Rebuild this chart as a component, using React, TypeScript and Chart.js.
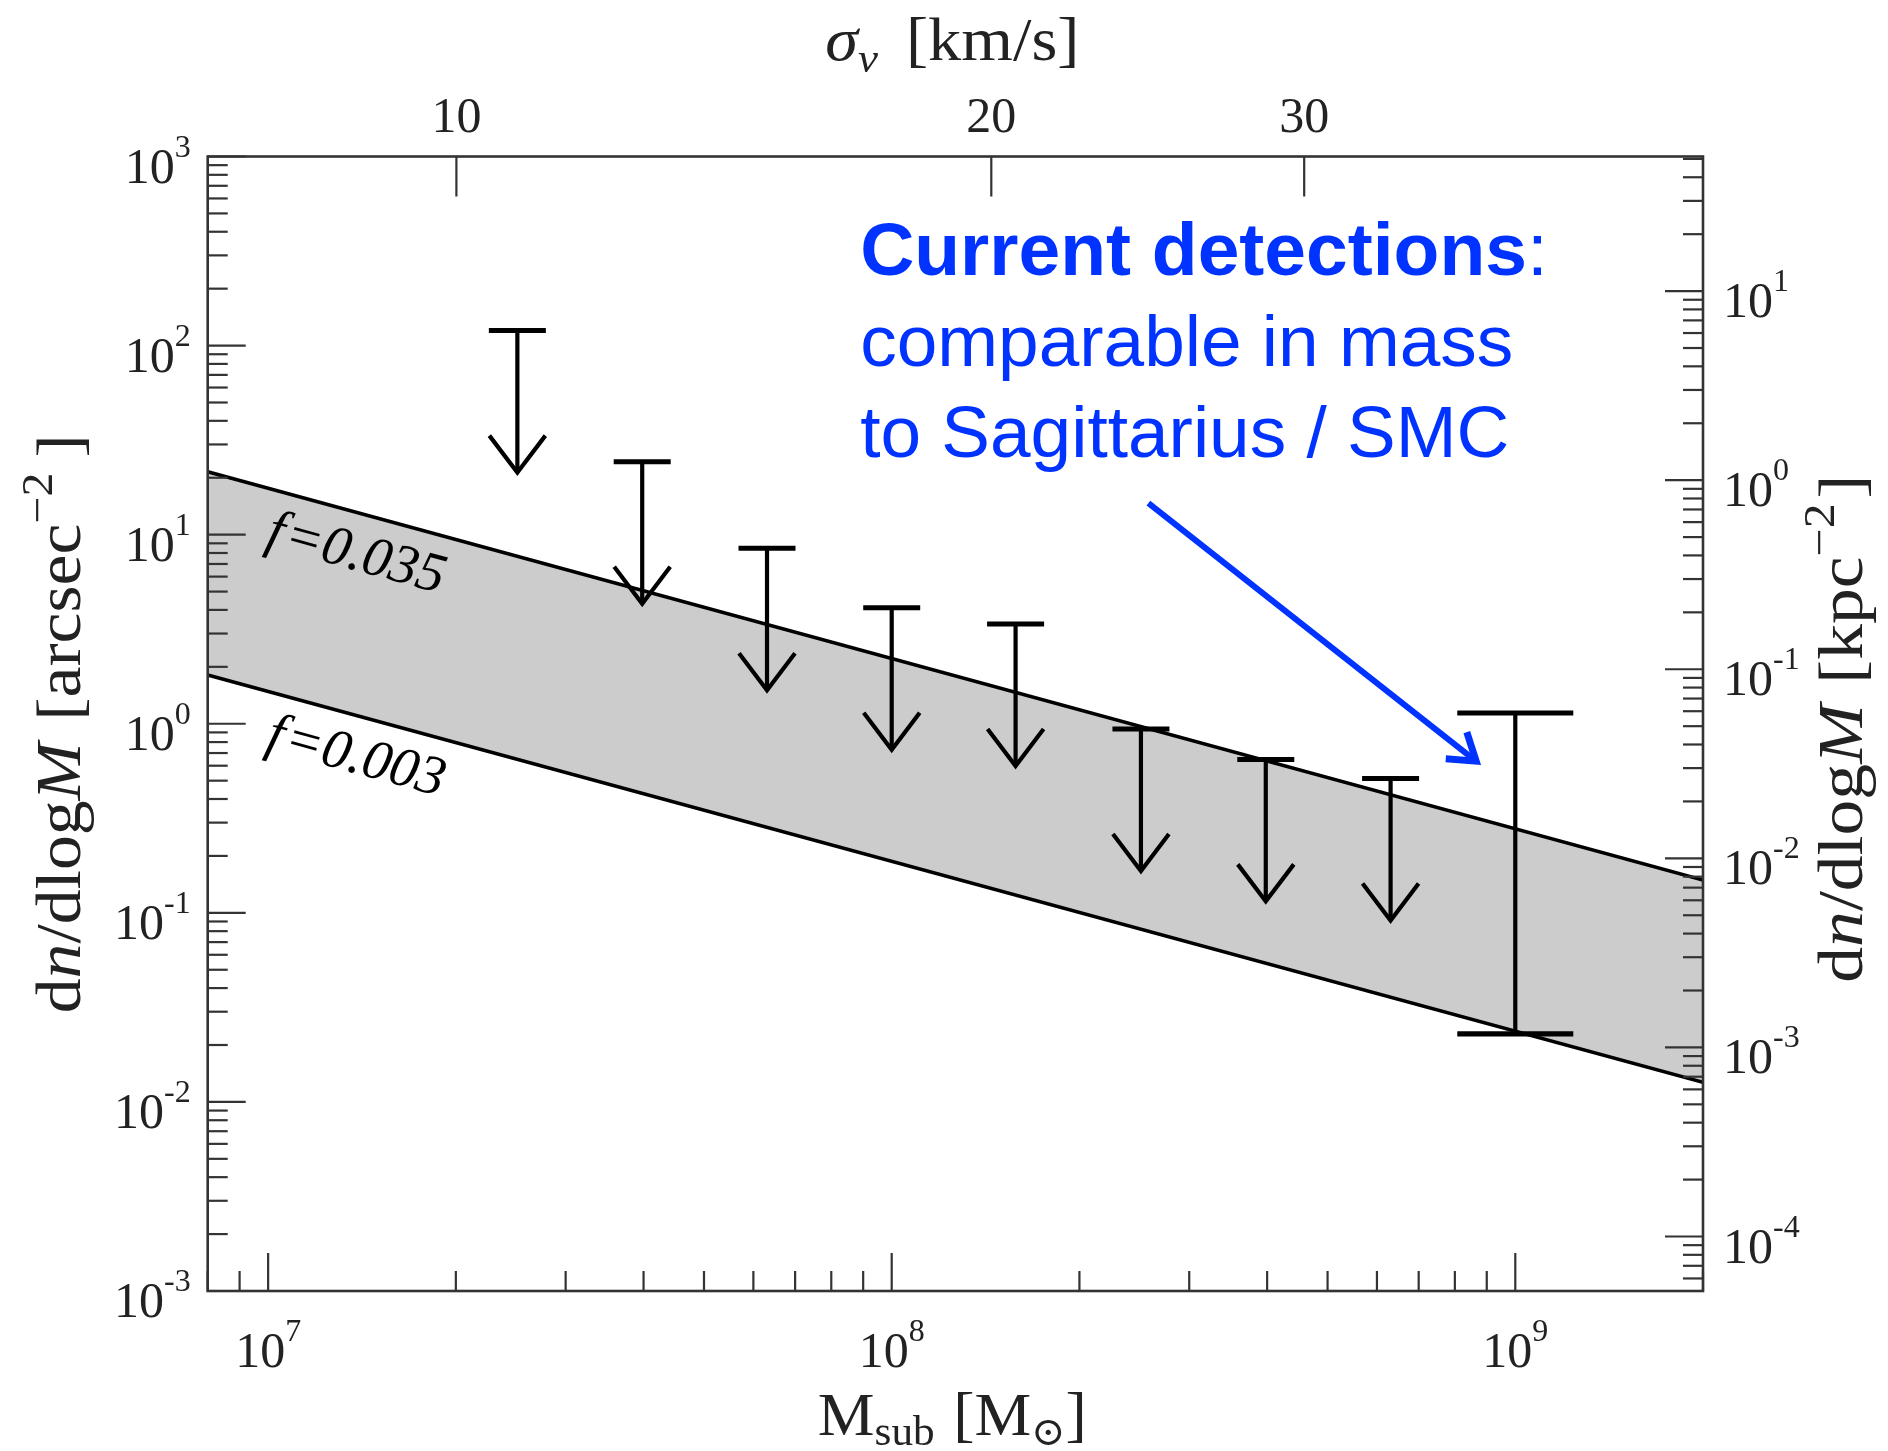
import React, { useEffect, useRef } from 'react';
import { Chart, registerables } from 'chart.js';

Chart.register(...registerables);

// Subhalo mass range of the shaded band and its two bounding lines [arcsec^-2]
const bandMass = [8e6, 2e9];
const bandHigh = [21.5, 0.149]; // f = 0.035
const bandLow = [1.81, 0.0127]; // f = 0.003
const bandLabels = ['0.035', '0.003'];

// Upper limits on dn/dlogM [arcsec^-2]
const limitMass = [2.51e7, 3.98e7, 6.31e7, 1.0e8, 1.58e8, 2.51e8, 3.98e8, 6.31e8];
const limitValue = [120, 24.3, 8.47, 4.11, 3.37, 0.938, 0.648, 0.514];

// Current detection interval [arcsec^-2]
const detectionMass = [1.0e9];
const detectionHigh = [1.14];
const detectionLow = [0.0229];

// Axis ranges
const massRange = [8e6, 2e9];
const densityRange = [1e-3, 1e3];
const kpcRange = [5.15e-5, 51.5];
const sigmaRange = [7.245, 50.3];

// Labelled ticks
const massTickPowers = [7, 8, 9];
const densityTickPowers = [-3, -2, -1, 0, 1, 2, 3];
const kpcTickPowers = [-4, -3, -2, -1, 0, 1];
const sigmaTicks = [10, 20, 30];

// Annotation text and arrow (data coordinates)
const noteHead = 'Current detections';
const noteLines = ['comparable in mass', 'to Sagittarius / SMC'];
const noteAnchor = [8.9e7, 236];
const arrowFrom = [2.58e8, 14.7];
const arrowTo = [8.73e8, 0.62];
const bandLabelMass = 1.44e7;

const SERIF = "'Liberation Serif', 'DejaVu Serif', serif";
const SANS = "'Liberation Sans', Arial, sans-serif";
const AXIS = '#333333';
const BLUE = 'rgb(0, 51, 255)';
const BAND_FILL = '#cccccc';

const MAJOR = 38;
const MINOR = 20;

type Run = {
  t: string;
  size: number;
  italic?: boolean;
  weight?: string;
  dy?: number;
  gap?: number;
  family?: string;
};

const fontOf = (r: Run) =>
  `${r.italic ? 'italic ' : ''}${r.weight || 'normal'} ${r.size}px ${r.family || SERIF}`;

function measureRuns(ctx: CanvasRenderingContext2D, runs: Run[]) {
  let w = 0;
  for (const r of runs) {
    ctx.font = fontOf(r);
    w += ctx.measureText(r.t).width + (r.gap || 0);
  }
  return w;
}

function drawRuns(
  ctx: CanvasRenderingContext2D,
  runs: Run[],
  x: number,
  y: number,
  align: 'left' | 'center' | 'right' = 'left',
  width?: number
) {
  const natural = measureRuns(ctx, runs);
  const sx = width ? width / natural : 1;
  const total = natural * sx;
  const start = align === 'left' ? x : align === 'center' ? x - total / 2 : x - total;
  ctx.save();
  ctx.translate(start, y);
  ctx.scale(sx, 1);
  ctx.textAlign = 'left';
  ctx.textBaseline = 'alphabetic';
  let cx = 0;
  for (const r of runs) {
    ctx.font = fontOf(r);
    ctx.fillText(r.t, cx, r.dy || 0);
    cx += ctx.measureText(r.t).width + (r.gap || 0);
  }
  ctx.restore();
}

const powerRuns = (p: number): Run[] => [
  { t: '10', size: 50 },
  { t: p < 0 ? `-${-p}` : String(p), size: 32, dy: -26, gap: 0 },
];

// All k·10^n values inside a range, flagged major when k = 1
function logTicks(min: number, max: number) {
  const out: { v: number; major: boolean }[] = [];
  const lo = Math.floor(Math.log10(min));
  const hi = Math.ceil(Math.log10(max));
  for (let n = lo; n <= hi; n++) {
    for (let k = 1; k <= 9; k++) {
      const v = k * Math.pow(10, n);
      if (v >= min * 0.9999 && v <= max * 1.0001) out.push({ v, major: k === 1 });
    }
  }
  return out;
}

function seg(ctx: CanvasRenderingContext2D, x1: number, y1: number, x2: number, y2: number) {
  ctx.beginPath();
  ctx.moveTo(x1, y1);
  ctx.lineTo(x2, y2);
  ctx.stroke();
}

const overlay = {
  id: 'overlay',
  afterDatasetsDraw(chart: any) {
    const { ctx, chartArea: a, scales } = chart;
    const x = scales.x;
    const y = scales.y;
    const xTop = scales.xTop;
    const yRight = scales.yRight;

    ctx.save();
    ctx.beginPath();
    ctx.rect(a.left, a.top, a.right - a.left, a.bottom - a.top);
    ctx.clip();

    // upper limits: cap, stem and open arrow head
    ctx.strokeStyle = '#000';
    ctx.lineJoin = 'miter';
    ctx.lineCap = 'butt';
    const capHalf = 28.5;
    const arrowLen = 142;
    const headW = 28;
    const headH = 37;
    limitMass.forEach((m, i) => {
      const px = x.getPixelForValue(m);
      const py = y.getPixelForValue(limitValue[i]);
      const tip = py + arrowLen;
      ctx.lineWidth = 5;
      seg(ctx, px - capHalf, py, px + capHalf, py);
      ctx.lineWidth = 4.2;
      seg(ctx, px, py, px, tip);
      ctx.beginPath();
      ctx.moveTo(px - headW, tip - headH);
      ctx.lineTo(px, tip);
      ctx.lineTo(px + headW, tip - headH);
      ctx.stroke();
    });

    // detection interval
    detectionMass.forEach((m, i) => {
      const px = x.getPixelForValue(m);
      const pTop = y.getPixelForValue(detectionHigh[i]);
      const pBot = y.getPixelForValue(detectionLow[i]);
      ctx.lineWidth = 4.2;
      seg(ctx, px, pTop, px, pBot);
      ctx.lineWidth = 5.2;
      seg(ctx, px - 58, pTop, px + 58, pTop);
      seg(ctx, px - 58, pBot, px + 58, pBot);
    });

    // f labels along the band edges
    const xa = x.getPixelForValue(bandMass[0]);
    const xb = x.getPixelForValue(bandMass[1]);
    [bandHigh, bandLow].forEach((vals, i) => {
      const ya = y.getPixelForValue(vals[0]);
      const yb = y.getPixelForValue(vals[1]);
      const ang = Math.atan2(yb - ya, xb - xa);
      const px = x.getPixelForValue(bandLabelMass);
      const py = ya + ((px - xa) / (xb - xa)) * (yb - ya);
      const off = 38;
      const cx = px - Math.sin(ang) * off;
      const cy = py + Math.cos(ang) * off;
      ctx.save();
      ctx.translate(cx, cy);
      ctx.rotate(ang);
      ctx.fillStyle = '#000';
      drawRuns(
        ctx,
        [
          { t: 'f', size: 56, italic: true, gap: 6 },
          { t: '=', size: 56, gap: 3 },
          { t: bandLabels[i], size: 56, italic: true },
        ],
        0,
        18,
        'center',
        182
      );
      ctx.restore();
    });

    // annotation arrow
    const ax0 = x.getPixelForValue(arrowFrom[0]);
    const ay0 = y.getPixelForValue(arrowFrom[1]);
    const ax1 = x.getPixelForValue(arrowTo[0]);
    const ay1 = y.getPixelForValue(arrowTo[1]);
    const dir = Math.atan2(ay1 - ay0, ax1 - ax0);
    ctx.strokeStyle = BLUE;
    ctx.lineWidth = 6;
    seg(ctx, ax0, ay0, ax1 - Math.cos(dir) * 4, ay1 - Math.sin(dir) * 4);
    ctx.lineWidth = 7;
    const wing = 33;
    const spread = (31 * Math.PI) / 180;
    ctx.beginPath();
    ctx.moveTo(ax1 - Math.cos(dir - spread) * wing, ay1 - Math.sin(dir - spread) * wing);
    ctx.lineTo(ax1 - Math.cos(dir) * 3, ay1 - Math.sin(dir) * 3);
    ctx.lineTo(ax1 - Math.cos(dir + spread) * wing, ay1 - Math.sin(dir + spread) * wing);
    ctx.stroke();
    ctx.restore();

    // annotation text
    ctx.save();
    ctx.fillStyle = BLUE;
    const nx = x.getPixelForValue(noteAnchor[0]);
    const ny = y.getPixelForValue(noteAnchor[1]);
    drawRuns(
      ctx,
      [
        { t: noteHead, size: 75, weight: 'bold', family: SANS },
        { t: ':', size: 75, family: SANS },
      ],
      nx,
      ny
    );
    noteLines.forEach((ln, i) => {
      drawRuns(ctx, [{ t: ln, size: 73, family: SANS }], nx, ny + 91 * (i + 1));
    });
    ctx.restore();

    // frame and inward ticks
    ctx.save();
    ctx.strokeStyle = AXIS;
    ctx.lineWidth = 2.2;
    logTicks(densityRange[0], densityRange[1]).forEach(({ v, major }) => {
      const py = y.getPixelForValue(v);
      seg(ctx, a.left, py, a.left + (major ? MAJOR : MINOR), py);
    });
    logTicks(kpcRange[0], kpcRange[1]).forEach(({ v, major }) => {
      const py = yRight.getPixelForValue(v);
      seg(ctx, a.right, py, a.right - (major ? MAJOR : MINOR), py);
    });
    logTicks(massRange[0], massRange[1]).forEach(({ v, major }) => {
      const px = x.getPixelForValue(v);
      seg(ctx, px, a.bottom, px, a.bottom - (major ? MAJOR : MINOR));
    });
    sigmaTicks.forEach((s) => {
      const px = xTop.getPixelForValue(s);
      seg(ctx, px, a.top, px, a.top + 40);
    });
    ctx.lineWidth = 2.6;
    ctx.strokeRect(a.left, a.top, a.right - a.left, a.bottom - a.top);
    ctx.restore();
  },
  afterDraw(chart: any) {
    const { ctx, chartArea: a, scales } = chart;
    const x = scales.x;
    const y = scales.y;
    const xTop = scales.xTop;
    const yRight = scales.yRight;
    ctx.save();
    ctx.fillStyle = '#222';

    densityTickPowers.forEach((p) => {
      const py = y.getPixelForValue(Math.pow(10, p));
      drawRuns(ctx, powerRuns(p), a.left - 17, py + 26, 'right');
    });
    kpcTickPowers.forEach((p) => {
      const py = yRight.getPixelForValue(Math.pow(10, p));
      drawRuns(ctx, powerRuns(p), a.right + 20, py + 26, 'left');
    });
    massTickPowers.forEach((p) => {
      const px = x.getPixelForValue(Math.pow(10, p));
      drawRuns(ctx, powerRuns(p), px, a.bottom + 76, 'center');
    });
    sigmaTicks.forEach((s) => {
      const px = xTop.getPixelForValue(s);
      drawRuns(ctx, [{ t: String(s), size: 50 }], px, a.top - 25, 'center');
    });

    const cxMid = (a.left + a.right) / 2;
    const cyMid = (a.top + a.bottom) / 2;

    // top title: velocity dispersion
    drawRuns(
      ctx,
      [
        { t: 'σ', size: 62, italic: true },
        { t: 'v', size: 42, italic: true, dy: 12, gap: 26 },
        { t: '[km/s]', size: 62 },
      ],
      cxMid - 3,
      60,
      'center',
      254
    );

    // bottom title: subhalo mass
    drawRuns(
      ctx,
      [
        { t: 'M', size: 62 },
        { t: 'sub', size: 42, dy: 10, gap: 18 },
        { t: '[M', size: 62 },
        { t: '⊙', size: 40, dy: 10 },
        { t: ']', size: 62 },
      ],
      cxMid - 3,
      1435,
      'center',
      269
    );

    // left title
    ctx.save();
    ctx.translate(80, cyMid);
    ctx.rotate(-Math.PI / 2);
    drawRuns(
      ctx,
      [
        { t: 'd', size: 64 },
        { t: 'n', size: 64, italic: true },
        { t: '/dlog', size: 64 },
        { t: 'M', size: 64, italic: true, gap: 20 },
        { t: '[arcsec', size: 64 },
        { t: '−2', size: 44, dy: -28, gap: 14 },
        { t: ']', size: 64 },
      ],
      0,
      0,
      'center',
      579
    );
    ctx.restore();

    // right title
    ctx.save();
    ctx.translate(1862, cyMid + 5);
    ctx.rotate(-Math.PI / 2);
    drawRuns(
      ctx,
      [
        { t: 'd', size: 63 },
        { t: 'n', size: 63, italic: true },
        { t: '/dlog', size: 63 },
        { t: 'M', size: 63, italic: true, gap: 18 },
        { t: '[kpc', size: 63 },
        { t: '−2', size: 44, dy: -28, gap: 4 },
        { t: ']', size: 63 },
      ],
      0,
      0,
      'center',
      508
    );
    ctx.restore();

    ctx.restore();
  },
};

export default function App() {
  const canvasRef = useRef<HTMLCanvasElement | null>(null);

  useEffect(() => {
    document.body.style.margin = '0';
    const canvas = canvasRef.current;
    if (!canvas) return;

    const chart = new Chart(canvas, {
      type: 'line',
      data: {
        datasets: [
          {
            label: `f=${bandLabels[0]}`,
            data: bandMass.map((m, i) => ({ x: m, y: bandHigh[i] })),
            borderColor: '#000',
            borderWidth: 3.6,
            pointRadius: 0,
            fill: '+1',
            backgroundColor: BAND_FILL,
            xAxisID: 'x',
            yAxisID: 'y',
          },
          {
            label: `f=${bandLabels[1]}`,
            data: bandMass.map((m, i) => ({ x: m, y: bandLow[i] })),
            borderColor: '#000',
            borderWidth: 3.6,
            pointRadius: 0,
            fill: false,
            xAxisID: 'x',
            yAxisID: 'y',
          },
          {
            type: 'scatter',
            label: 'upper limits',
            data: limitMass.map((m, i) => ({ x: m, y: limitValue[i] })),
            pointRadius: 0,
            showLine: false,
            xAxisID: 'x',
            yAxisID: 'y',
          },
          {
            type: 'scatter',
            label: 'detection',
            data: detectionMass.map((m, i) => ({ x: m, y: detectionHigh[i] })),
            pointRadius: 0,
            showLine: false,
            xAxisID: 'x',
            yAxisID: 'y',
          },
        ],
      } as any,
      options: {
        responsive: false,
        animation: false,
        events: [],
        layout: {
          autoPadding: false,
          padding: { left: 207.7, right: 185, top: 156.5, bottom: 160 },
        },
        plugins: {
          legend: { display: false },
          tooltip: { enabled: false },
          filler: { drawTime: 'beforeDatasetsDraw' },
        },
        scales: {
          x: { type: 'logarithmic', position: 'bottom', min: massRange[0], max: massRange[1], display: false },
          xTop: { type: 'logarithmic', position: 'top', min: sigmaRange[0], max: sigmaRange[1], display: false },
          y: { type: 'logarithmic', position: 'left', min: densityRange[0], max: densityRange[1], display: false },
          yRight: { type: 'logarithmic', position: 'right', min: kpcRange[0], max: kpcRange[1], display: false },
        },
      } as any,
      plugins: [overlay],
    });

    return () => chart.destroy();
  }, []);

  return (
    <div style={{ width: 1888, height: 1451, background: '#fff' }}>
      <canvas ref={canvasRef} width={1888} height={1451} style={{ display: 'block' }} />
    </div>
  );
}
